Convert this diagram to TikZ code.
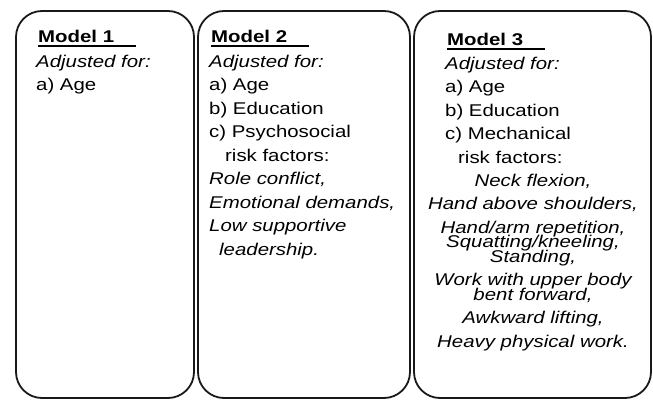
\documentclass[tikz,border=0pt]{standalone}
\usepackage{fontspec}
\setmainfont{Liberation Sans}[FakeStretch=1.2]
\usepackage{tikz}
\tikzset{
    panel/.style={draw=black!90, line width=1.8pt, rounded corners=26pt},
    txt/.style={inner sep=0pt, anchor=north west, align=left},
    title/.style={inner sep=0pt, anchor=base west, font=\fontsize{17}{23.5}\selectfont\bfseries},
    uline/.style={line width=1.1pt},
}

\begin{document}
\begin{tikzpicture}[x=1pt, y=-1pt, every node/.style={font=\fontsize{17}{23.5}\selectfont}]
\useasboundingbox (0,0) rectangle (653,401);
\draw[panel] (16,11) rectangle (194,398);
\draw[panel] (198,11) rectangle (410,398);
\draw[panel] (414,11) rectangle (651,398);

% model 1
\node[title] (m1) at (38,43) {Model 1};
\draw[uline] ([yshift=-3pt]m1.base west) -- +(98,0);
\node[txt] (adj1) at (36,54.5) {\textit{Adjusted for:}\\a) Age};

% model 2
\node[title] (m2) at (211,43) {Model 2};
\draw[uline] ([yshift=-3pt]m2.base west) -- +(98,0);
\node[txt] (adj2) at (209,54.5) {\textit{Adjusted for:}\\a) Age\\b) Education\\c) Psychosocial\\
    \hspace*{16pt}risk factors:\\\textit{Role conflict,}\\\textit{Emotional demands,}\\
    \textit{Low supportive}\\\hspace*{10pt}\textit{leadership.}};

% model 3
\node[title] (m3) at (447,46) {Model 3};
\draw[uline] ([yshift=-3pt]m3.base west) -- +(98,0);
\node[txt] (adj3) at (445,56.5) {\textit{Adjusted for:}\\a) Age\\b) Education\\c) Mechanical\\
    \hspace*{13pt}risk factors:};
\node[txt, align=center, anchor=north, font=\fontsize{17}{23.5}\selectfont\itshape] (risk3) at (533,173.5)
    {Neck flexion,\\Hand above shoulders,\\Hand/arm repetition,\\[-9pt]Squatting/kneeling,\\[-9pt]Standing,\\
    Work with upper body\\[-9pt]bent forward,\\Awkward lifting,\\Heavy physical work.};
\end{tikzpicture}
\end{document}
